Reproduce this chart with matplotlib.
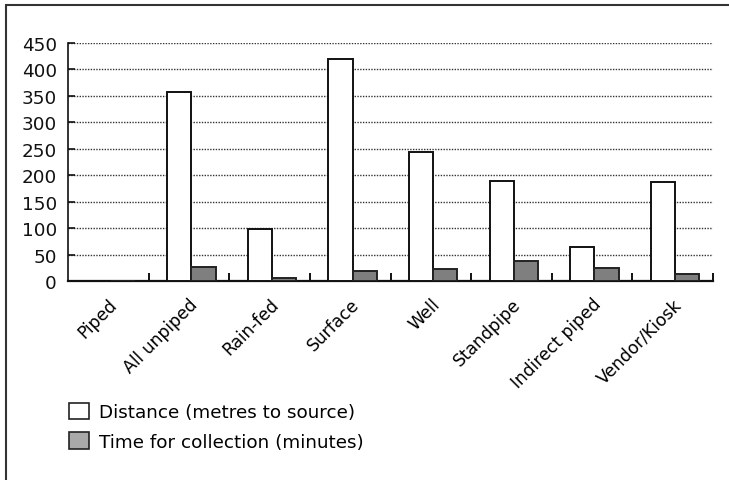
import matplotlib
matplotlib.use("Agg")
import matplotlib.pyplot as plt
from matplotlib.patches import Patch, Rectangle
import numpy as np

plt.rcParams['font.family'] = ['DejaVu Sans']

categories = ["Piped", "All unpiped", "Rain-fed", "Surface", "Well",
              "Standpipe", "Indirect piped", "Vendor/Kiosk"]
distance = [0, 358, 99, 420, 244, 190, 65, 187]
time_min = [0, 26, 6, 18, 22, 37, 25, 14]
yticks = [0, 50, 100, 150, 200, 250, 300, 350, 400, 450]
legend_labels = ["Distance (metres to source)", "Time for collection (minutes)"]

W, H = 729, 481
fig = plt.figure(figsize=(W / 100, H / 100), dpi=100)
ax = fig.add_axes([68 / W, 1 - 282 / H, (713 - 68) / W, (282 - 44) / H])

x = np.arange(len(categories))
bw = 0.30
ax.bar(x - bw / 2 + 0.03, distance, width=bw, color="white", edgecolor="#111111",
       linewidth=1.4, zorder=3)
ax.bar(x + bw / 2 + 0.03, time_min, width=bw, color="#7f7f7f", edgecolor="#222222",
       linewidth=1.4, zorder=3)

ax.set_xlim(-0.5, len(categories) - 0.5)
ax.set_ylim(0, 450)
ax.set_yticks(yticks)
ax.set_yticklabels([str(v) for v in yticks], fontsize=13.2)
ax.yaxis.grid(True, linestyle=(0, (1, 1)), color="#333333", linewidth=1.0, zorder=0)
ax.tick_params(axis="y", direction="in", length=5, width=1.2, pad=8, colors="#111111")

ax.set_xticks(x)
ax.set_xticklabels(categories, rotation=45, ha="right", va="top",
                   rotation_mode="anchor", fontsize=12.3)
ax.tick_params(axis="x", which="major", length=0, pad=10)
ax.set_xticks(np.arange(0.5, len(categories), 1.0), minor=True)
ax.tick_params(axis="x", which="minor", direction="in", length=6, width=1.4, colors="#111111")

for s in ("top", "right"):
    ax.spines[s].set_visible(False)
ax.spines["left"].set_linewidth(1.2)
ax.spines["bottom"].set_linewidth(1.6)
ax.spines["left"].set_color("#111111")
ax.spines["bottom"].set_color("#111111")

handles = [Patch(facecolor="white", edgecolor="#222222", linewidth=1.2),
           Patch(facecolor="#a9a9a9", edgecolor="#222222", linewidth=1.2)]
fig.legend(handles, legend_labels, loc="upper left",
           bbox_to_anchor=(63 / W, 1 - 398 / H), frameon=False,
           fontsize=13.2, handlelength=1.1, handleheight=1.0,
           handletextpad=0.55, labelspacing=0.62, borderaxespad=0, borderpad=0.3)

# outer frame
fig.patches.append(Rectangle((6 / W, -0.2), 1.3, 1.2 - 5.5 / H, transform=fig.transFigure,
                             fill=False, edgecolor="#333333", linewidth=1.5))

fig.savefig("out.png", dpi=100)
